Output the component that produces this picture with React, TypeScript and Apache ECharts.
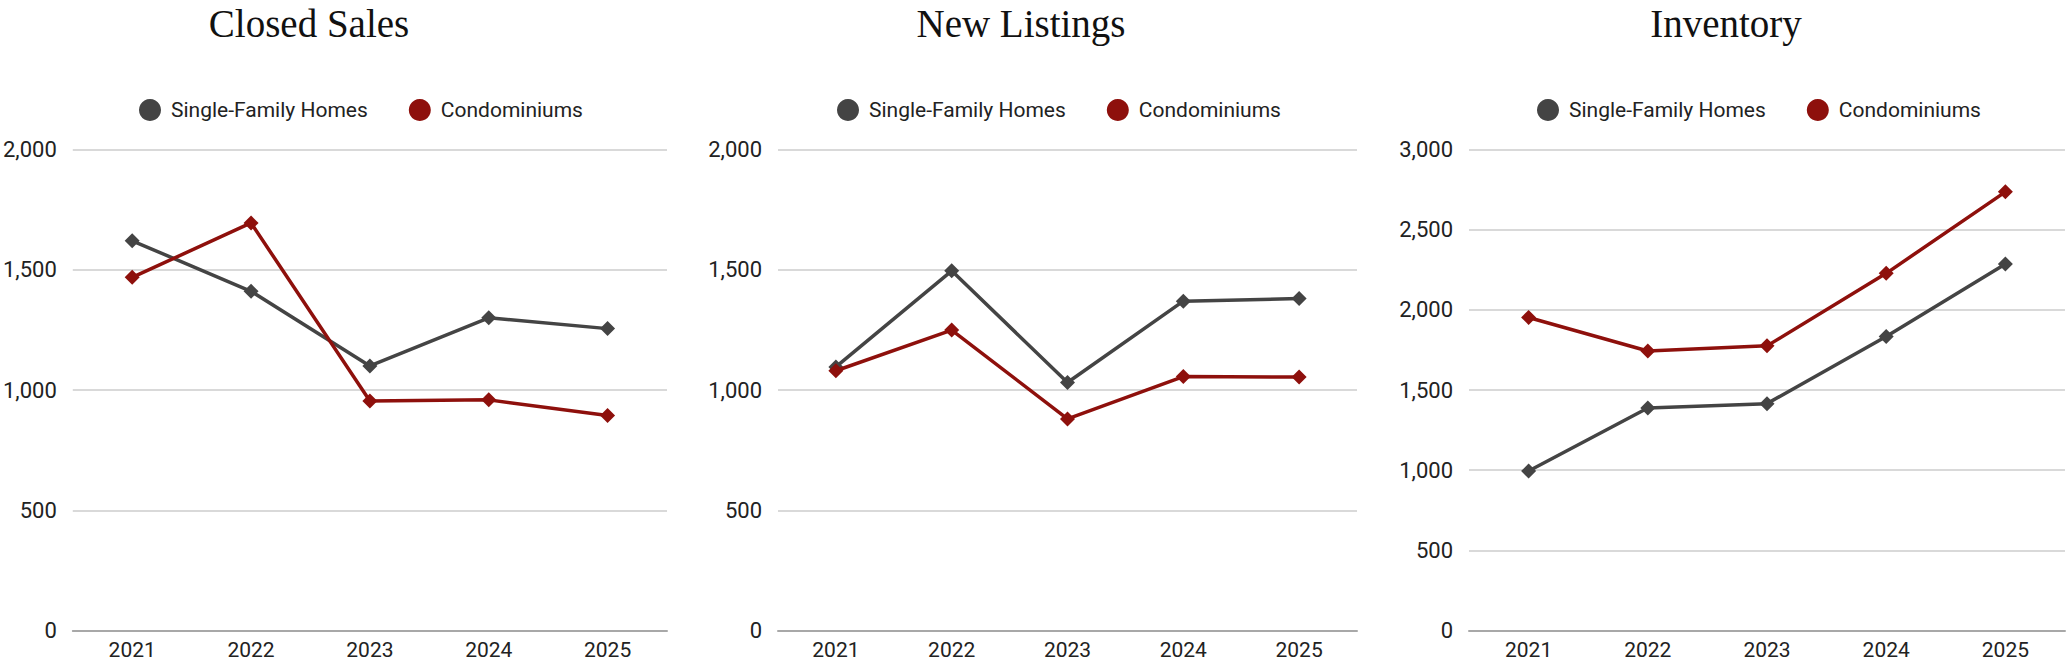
import React, { useEffect, useRef } from "react";
import * as echarts from "echarts";

const years = ["2021", "2022", "2023", "2024", "2025"];
const seriesNames = ["Single-Family Homes", "Condominiums"];
const titles = ["Closed Sales", "New Listings", "Inventory"];

const closedSfh = [1620, 1410, 1100, 1300, 1255];
const closedCondo = [1468, 1694, 954, 959, 894];
const listingsSfh = [1096, 1495, 1031, 1369, 1380];
const listingsCondo = [1080, 1249, 880, 1056, 1054];
const inventorySfh = [995, 1388, 1415, 1833, 2285];
const inventoryCondo = [1952, 1743, 1775, 2227, 2735];

const yMax = [2000, 2000, 3000];

const GRAY = "#444444";
const RED = "#8e100c";

const panels = [
  { left: 70, width: 597, titleX: 309, legendLeft: 139, sfh: closedSfh, condo: closedCondo },
  { left: 778, width: 579, titleX: 1021, legendLeft: 837, sfh: listingsSfh, condo: listingsCondo },
  { left: 1469, width: 596, titleX: 1726, legendLeft: 1537, sfh: inventorySfh, condo: inventoryCondo },
];

export default function App() {
  const ref = useRef<HTMLDivElement>(null);

  useEffect(() => {
    if (!ref.current) return;
    const chart = echarts.init(ref.current, undefined, { renderer: "svg" });

    const fmt = (v: number) => v.toLocaleString("en-US");

    const option: any = {
      animation: false,
      backgroundColor: "#ffffff",
      title: panels.map((p, i) => ({
        text: titles[i],
        left: p.titleX,
        top: 1,
        textAlign: "center",
        padding: 0,
        textStyle: {
          fontFamily: "Liberation Serif",
          fontSize: 39,
          lineHeight: 44,
          fontWeight: "normal",
          color: "#111111",
        },
      })),
      legend: panels.map((p) => ({
        data: seriesNames,
        left: p.legendLeft,
        top: 99,
        icon: "circle",
        itemWidth: 22,
        itemHeight: 22,
        itemGap: 41,
        padding: 0,
        textStyle: {
          fontFamily: "Roboto",
          fontSize: 21,
          color: "#222222",
          padding: [0, 0, 0, 5],
        },
      })),
      grid: panels.map((p) => ({
        left: p.left,
        width: p.width,
        top: 149.3,
        height: 481.4,
        containLabel: false,
      })),
      xAxis: panels.map((p, i) => ({
        type: "category",
        gridIndex: i,
        data: years,
        boundaryGap: true,
        axisLine: { show: true, lineStyle: { color: "#a8a8a8", width: 2 } },
        axisTick: { show: false },
        axisLabel: {
          fontFamily: "Roboto",
          fontSize: 21,
          color: "#222222",
          margin: 9,
        },
        splitLine: { show: false },
      })),
      yAxis: panels.map((p, i) => ({
        type: "value",
        gridIndex: i,
        min: 0,
        max: yMax[i],
        interval: 500,
        axisLine: { show: false },
        axisTick: { show: false },
        axisLabel: {
          fontFamily: "Roboto",
          fontSize: 22,
          color: "#222222",
          margin: 16,
          formatter: fmt,
        },
        splitLine: { show: true, lineStyle: { color: "#cccccc", width: 1.5 } },
      })),
      series: panels.flatMap((p, i) => [
        {
          name: seriesNames[0],
          type: "line",
          xAxisIndex: i,
          yAxisIndex: i,
          data: p.sfh,
          symbol: "diamond",
          symbolSize: 15,
          lineStyle: { color: GRAY, width: 3.5 },
          itemStyle: { color: GRAY },
          z: 3,
        },
        {
          name: seriesNames[1],
          type: "line",
          xAxisIndex: i,
          yAxisIndex: i,
          data: p.condo,
          symbol: "diamond",
          symbolSize: 15,
          lineStyle: { color: RED, width: 3.5 },
          itemStyle: { color: RED },
          z: 4,
        },
      ]),
    };

    chart.setOption(option);
    return () => chart.dispose();
  }, []);

  return (
    <div
      ref={ref}
      style={{ position: "absolute", left: 0, top: 0, width: 2069, height: 665 }}
    />
  );
}
